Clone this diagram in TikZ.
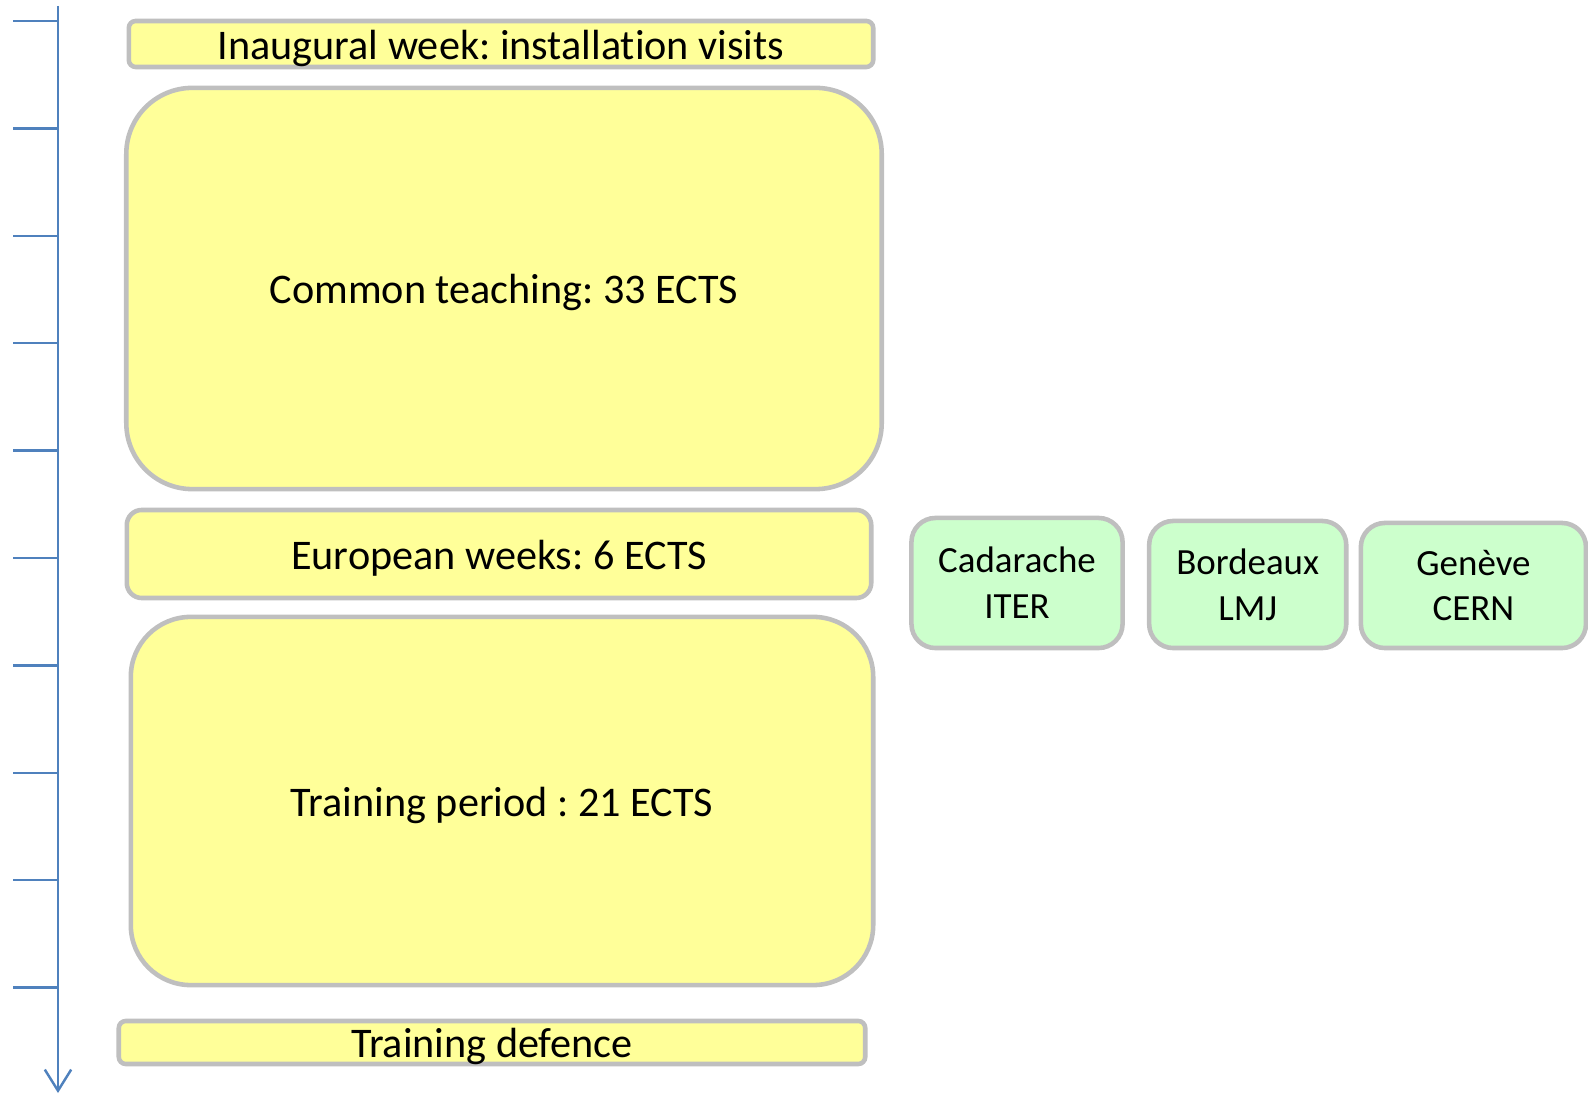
\documentclass[tikz,border=0pt]{standalone}
\usepackage{fontspec}
\setmainfont{Carlito}[Ligatures=NoCommon]
\usetikzlibrary{arrows.meta, positioning}

\definecolor{boxgray}{HTML}{BFBFBF}
\definecolor{boxyellow}{HTML}{FFFF99}
\definecolor{boxgreen}{HTML}{CCFFCC}
\definecolor{axisblue}{HTML}{4F81BD}

\frenchspacing

\begin{document}
\begin{tikzpicture}
  [
  x = 0.01cm, y = -0.01cm,
  % yellow blocks
  phase/.style = {rectangle, draw=boxgray, line width=1.3pt, fill=boxyellow,
    inner sep=0pt, text height=8.7pt, text depth=0pt,
    font=\fontsize{12}{14}\selectfont},
  % green sites
  site/.style = {rectangle, draw=boxgray, line width=1.3pt, fill=boxgreen,
    inner sep=0pt, align=center, rounded corners=0.24cm,
    font=\fontsize{10.5}{13}\selectfont},
  % time axis
  axis/.style = {draw=axisblue, line width=0.7pt},
  ]

  \useasboundingbox (0,0) rectangle (1588,1095);

  % nodes
  % kern keeps t and i apart (no ligature)
  \node [phase, rounded corners=0.07cm, minimum width=7.44cm, minimum height=0.46cm]
    (inaug) at (501,44) {Inaugural week: installat\kern0pt ion visits};
  \node [phase, rounded corners=0.66cm, minimum width=7.55cm, minimum height=4.01cm]
    (common) at (504,288.5) {Common teaching: 33 ECTS};
  \node [phase, rounded corners=0.15cm, minimum width=7.44cm, minimum height=0.88cm]
    (europe) at (499,554) {European weeks: 6 ECTS};
  \node [phase, rounded corners=0.6cm, minimum width=7.42cm, minimum height=3.68cm]
    (train) at (502,801) {Training period : 21 ECTS};
  \node [phase, rounded corners=0.07cm, minimum width=7.46cm, minimum height=0.43cm]
    (defence) at (492,1042.5) {Training defence};

  % sites next to the european weeks
  \node [site, minimum width=2.11cm, minimum height=1.30cm]
    (cad) at (1017,583) {Cadarache\\ITER};
  \node [site, minimum width=1.97cm, minimum height=1.27cm,
    right=2.2mm of cad.south east, anchor=south west] (bdx) {Bordeaux\\LMJ};
  \node [site, minimum width=2.25cm, minimum height=1.25cm,
    right=1mm of bdx.south east, anchor=south west] (gen) {Genève\\CERN};

  % time axis
  \coordinate (top) at (58,6);
  \coordinate (bot) at (58,1093);
  \path [axis, -{Straight Barb[length=6pt, width=7.5pt]}] (top) -- (bot);
  \foreach \k in {0,...,9}
    \path [axis] (13,{21+107.4*\k}) -- (58,{21+107.4*\k});

\end{tikzpicture}
\end{document}
